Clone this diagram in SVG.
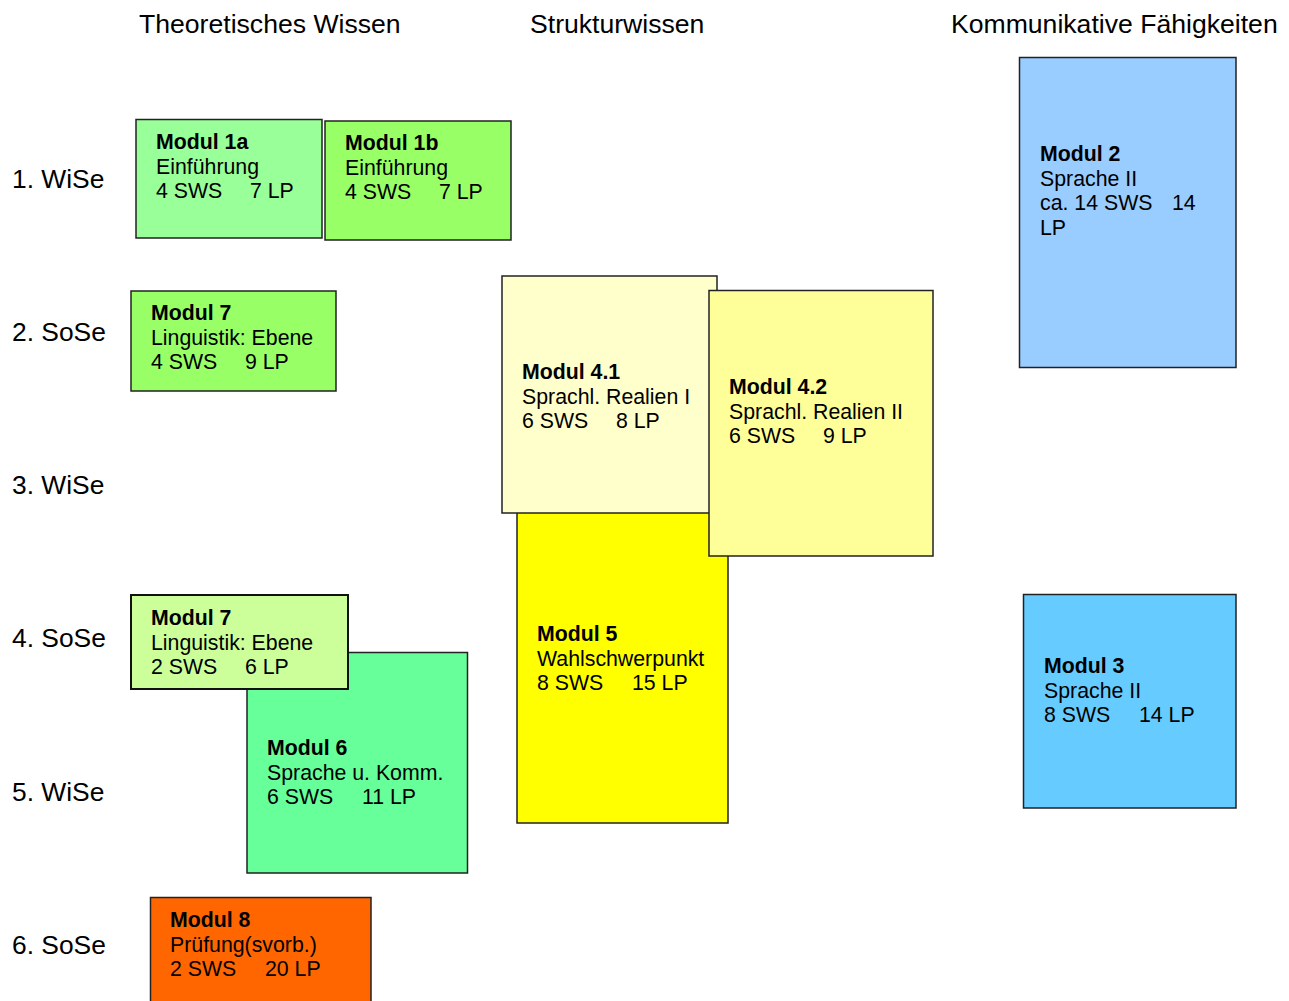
<svg xmlns="http://www.w3.org/2000/svg" width="1289" height="1001" viewBox="0 0 1289 1001">
<style>
text{font-family:"Liberation Sans",Arial,sans-serif;fill:#000}
.h{font-size:26.6px}
.r{font-size:26.4px}
.n{font-size:21.3px}
.b{font-weight:bold}
.box{stroke:#222;stroke-width:1.5}
</style>
<rect width="1289" height="1001" fill="#fff"/>
<g id="headers">
<text class="h" x="139" y="33">Theoretisches Wissen</text>
<text class="h" x="530" y="33">Strukturwissen</text>
<text class="h" x="951" y="33">Kommunikative Fähigkeiten</text>
</g>
<g id="semesters">
<text class="r" x="12" y="188">1. WiSe</text>
<text class="r" x="12" y="341">2. SoSe</text>
<text class="r" x="12" y="494">3. WiSe</text>
<text class="r" x="12" y="647">4. SoSe</text>
<text class="r" x="12" y="801">5. WiSe</text>
<text class="r" x="12" y="954">6. SoSe</text>
</g>
<g id="connectors"></g>
<g id="m1a">
<rect class="box" x="136" y="119.5" width="186" height="118.5" fill="#99FF99"/>
<text class="n"><tspan class="b" x="156" y="149">Modul 1a</tspan><tspan x="156" y="173.5">Einführung</tspan><tspan x="156" y="198">4 SWS</tspan><tspan x="250" y="198">7 LP</tspan></text>
</g>
<g id="m1b">
<rect class="box" x="325" y="121" width="186" height="119" fill="#99FF66"/>
<text class="n"><tspan class="b" x="345" y="150">Modul 1b</tspan><tspan x="345" y="174.5">Einführung</tspan><tspan x="345" y="199">4 SWS</tspan><tspan x="439" y="199">7 LP</tspan></text>
</g>
<g id="m7a">
<rect class="box" x="131" y="291" width="205" height="100" fill="#99FF66"/>
<text class="n"><tspan class="b" x="151" y="320">Modul 7</tspan><tspan x="151" y="344.5">Linguistik: Ebene</tspan><tspan x="151" y="369">4 SWS</tspan><tspan x="245" y="369">9 LP</tspan></text>
</g>
<g id="m5">
<rect class="box" x="517" y="500" width="211" height="323" fill="#FFFF00"/>
<text class="n"><tspan class="b" x="537" y="641">Modul 5</tspan><tspan x="537" y="665.5">Wahlschwerpunkt</tspan><tspan x="537" y="690">8 SWS</tspan><tspan x="632" y="690">15 LP</tspan></text>
</g>
<g id="m41">
<rect class="box" x="502" y="276" width="215" height="237" fill="#FFFFCC"/>
<text class="n"><tspan class="b" x="522" y="379">Modul 4.1</tspan><tspan x="522" y="403.5">Sprachl. Realien I</tspan><tspan x="522" y="428">6 SWS</tspan><tspan x="616" y="428">8 LP</tspan></text>
</g>
<g id="m42">
<rect class="box" x="709" y="290.5" width="224" height="265.5" fill="#FFFF99"/>
<text class="n"><tspan class="b" x="729" y="394">Modul 4.2</tspan><tspan x="729" y="418.5">Sprachl. Realien II</tspan><tspan x="729" y="443">6 SWS</tspan><tspan x="823" y="443">9 LP</tspan></text>
</g>
<g id="m2">
<rect class="box" x="1019.5" y="57.5" width="216.5" height="310" fill="#99CCFF"/>
<text class="n"><tspan class="b" x="1040" y="161">Modul 2</tspan><tspan x="1040" y="185.5">Sprache II</tspan><tspan x="1040" y="210">ca. 14 SWS</tspan><tspan x="1172" y="210">14</tspan><tspan x="1040" y="234.5">LP</tspan></text>
</g>
<g id="m3">
<rect class="box" x="1023.5" y="594.5" width="212.5" height="213.5" fill="#66CCFF"/>
<text class="n"><tspan class="b" x="1044" y="673">Modul 3</tspan><tspan x="1044" y="697.5">Sprache II</tspan><tspan x="1044" y="722">8 SWS</tspan><tspan x="1139" y="722">14 LP</tspan></text>
</g>
<g id="m6">
<rect class="box" x="247" y="652.5" width="220.5" height="220.5" fill="#66FF99"/>
<text class="n"><tspan class="b" x="267" y="755">Modul 6</tspan><tspan x="267" y="779.5">Sprache u. Komm.</tspan><tspan x="267" y="804">6 SWS</tspan><tspan x="362" y="804">11 LP</tspan></text>
</g>
<g id="m7b">
<rect class="box" x="131" y="595" width="217" height="94" fill="#CCFF99" style="stroke:#111;stroke-width:2"/>
<text class="n"><tspan class="b" x="151" y="625">Modul 7</tspan><tspan x="151" y="649.5">Linguistik: Ebene</tspan><tspan x="151" y="674">2 SWS</tspan><tspan x="245" y="674">6 LP</tspan></text>
</g>
<g id="m8">
<rect class="box" x="150.5" y="897.5" width="220.5" height="110" fill="#FF6600"/>
<text class="n"><tspan class="b" x="170" y="927">Modul 8</tspan><tspan x="170" y="951.5">Prüfung(svorb.)</tspan><tspan x="170" y="976">2 SWS</tspan><tspan x="265" y="976">20 LP</tspan></text>
</g>
</svg>
